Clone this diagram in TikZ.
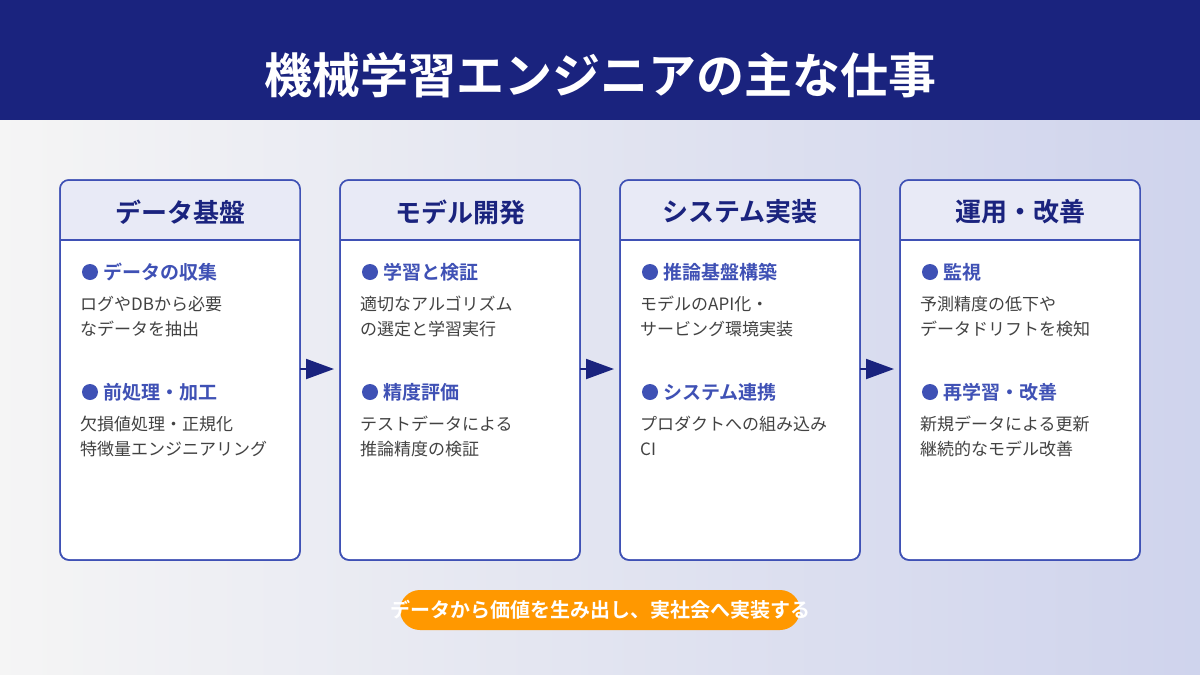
\documentclass[tikz,border=0pt]{standalone}
\usepackage{fontspec}
\setmainfont{Noto Sans CJK JP}[BoldFont={Noto Sans CJK JP Bold}]
\usetikzlibrary{arrows.meta}
\definecolor{navy}{HTML}{1A237E}
\definecolor{indig}{HTML}{3F51B5}
\definecolor{hdr}{HTML}{E8EAF6}
\definecolor{bodyc}{HTML}{424242}
\definecolor{orng}{HTML}{FF9800}
\begin{document}
\begin{tikzpicture}[x=1pt,y=-1pt,
 card/.style={draw=indig,line width=1.5pt,fill=white,rounded corners=9pt},
 head/.style={font=\bfseries\fontsize{26}{30}\selectfont,text=navy,anchor=center},
 bhead/.style={font=\bfseries\fontsize{19}{23}\selectfont,text=indig,anchor=west},
 body/.style={font=\fontsize{17}{25}\selectfont,text=bodyc,anchor=north west,align=left,inner sep=0},
 arr/.style={-{Triangle[length=28pt,width=20pt]},line width=2pt,draw=navy}]
\shade[left color=gray!8,right color=indig!25] (0,0) rectangle (1200,675);
\fill[navy] (0,0) rectangle (1200,120);
\node[font=\bfseries\fontsize{48}{56}\selectfont,text=white] (title) at (600,75) {機械学習エンジニアの主な仕事};
\foreach \i/\h/\ba/\la/\lb/\bb/\lc/\ld in {
 0/データ基盤/データの収集/ログやDBから必要/なデータを抽出/前処理・加工/欠損値処理・正規化/特徴量エンジニアリング,
 1/モデル開発/学習と検証/適切なアルゴリズム/の選定と学習実行/精度評価/テストデータによる/推論精度の検証,
 2/システム実装/推論基盤構築/モデルのAPI化・/サービング環境実装/システム連携/プロダクトへの組み込み/CI/CDパイプライン構築,
 3/運用・改善/監視/予測精度の低下や/データドリフトを検知/再学習・改善/新規データによる更新/継続的なモデル改善}{
 \pgfmathsetmacro\xx{60+280*\i}
 \draw[card] (\xx,180) rectangle ++(240,380);
 \begin{scope}
 \clip[rounded corners=9pt] (\xx,180) rectangle ++(240,380);
 \fill[hdr] (\xx,180) rectangle ++(240,60);
 \end{scope}
 \draw[card,fill=none] (\xx,180) rectangle ++(240,380);
 \draw[indig,line width=1.5pt] (\xx,240) -- ++(240,0);
 \node[head] (h\i) at (\xx+120,212) {\h};
 \fill[indig] (\xx+30,272) circle (8);
 \node[bhead] (ba\i) at (\xx+40,272) {\ba};
 \node[body] (t\i) at (\xx+20,296) {\la\\\lb};
 \fill[indig] (\xx+30,392) circle (8);
 \node[bhead] (bb\i) at (\xx+40,392) {\bb};
 \node[body] (u\i) at (\xx+20,416) {\lc\\\ld};
 \coordinate (r\i) at (\xx+240,369);
 \coordinate (l\i) at (\xx,369);
}
\foreach \a/\b in {0/1,1/2,2/3}{
 \draw[arr] (r\a) -- ([xshift=-6pt]l\b);
}
\fill[orng,rounded corners=20pt] (400,590) rectangle (800,630);
\node[font=\bfseries\fontsize{20}{24}\selectfont,text=white] (pill) at (600,610) {データから価値を生み出し、実社会へ実装する};
\end{tikzpicture}
\end{document}
